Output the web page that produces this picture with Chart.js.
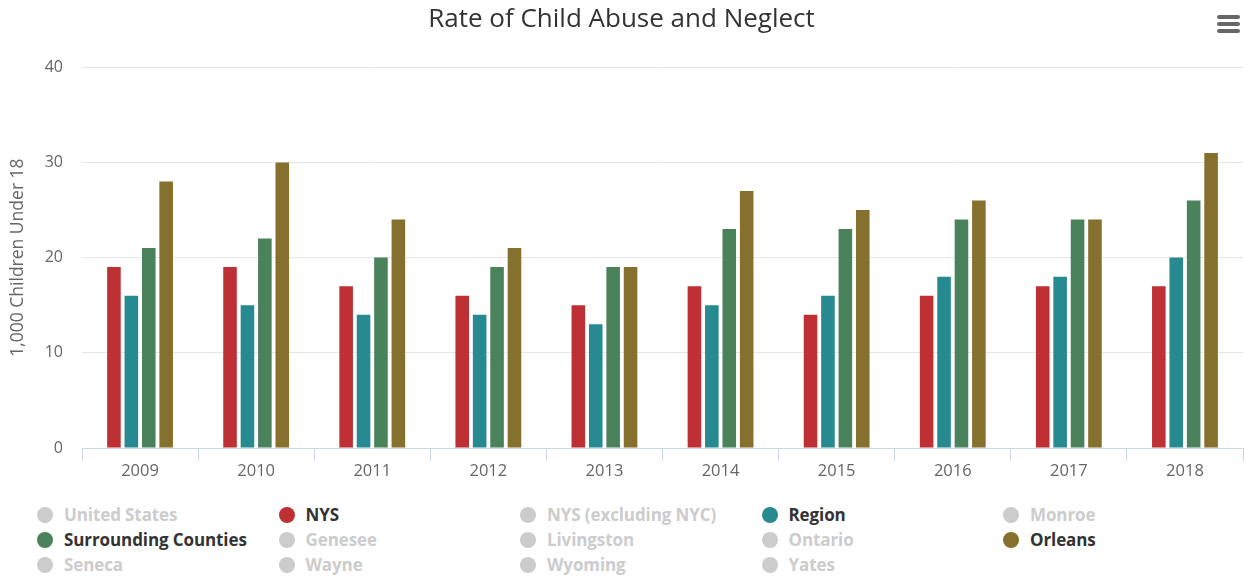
<!DOCTYPE html>
<html>
<head>
<meta charset="utf-8">
<script src="https://cdn.jsdelivr.net/npm/chart.js@4"></script>
<style>
  html, body { margin: 0; padding: 0; background: #fff; }
  #wrap { position: relative; width: 1244px; height: 576px; overflow: hidden; }
  #chartBox { position: absolute; left: 0; top: 0; width: 1244px; height: 482px; }
  #menu { position: absolute; left: 1217px; top: 15px; width: 23px; }
  #menu span { display: block; height: 3.5px; margin-bottom: 3.5px; background: #666; border-radius: 2px; }
  #legend { position: absolute; left: 37px; top: 505px; display: grid;
    grid-template-columns: repeat(5, 241.5px); row-gap: 6px;
    font-family: "Open Sans", sans-serif; font-weight: bold; font-size: 17px; letter-spacing: -0.1px; }
  .item { display: flex; align-items: center; height: 19px; white-space: nowrap; }
  .dot { width: 16px; height: 16px; border-radius: 50%; margin-right: 11px; flex: none; }
</style>
</head>
<body>
<div id="wrap">
  <div id="chartBox"><canvas id="abuseChart"></canvas></div>
  <div id="menu"><span></span><span></span><span></span></div>
  <div id="legend"></div>
</div>
<script>
const years = ["2009", "2010", "2011", "2012", "2013", "2014", "2015", "2016", "2017", "2018"];
const yTicks = [0, 10, 20, 30, 40];

const nys = [19, 19, 17, 16, 15, 17, 14, 16, 17, 17];
const region = [16, 15, 14, 14, 13, 15, 16, 18, 18, 20];
const surrounding = [21, 22, 20, 19, 19, 23, 23, 24, 24, 26];
const orleans = [28, 30, 24, 21, 19, 27, 25, 26, 24, 31];

// legend order, hidden series have no values shown in the picture
const seriesNames = [
  "United States", "NYS", "NYS (excluding NYC)", "Region", "Monroe",
  "Surrounding Counties", "Genesee", "Livingston", "Ontario", "Orleans",
  "Seneca", "Wayne", "Wyoming", "Yates"
];
const shownSeries = {
  "NYS": { data: nys, color: "#BE3034" },
  "Region": { data: region, color: "#288A91" },
  "Surrounding Counties": { data: surrounding, color: "#4A825C" },
  "Orleans": { data: orleans, color: "#85712D" }
};

const datasets = seriesNames.map(name => {
  const s = shownSeries[name];
  return {
    label: name,
    data: s ? s.data : [],
    hidden: !s,
    backgroundColor: s ? s.color : "#cccccc",
    borderWidth: 0,
    categoryPercentage: 0.6,
    barPercentage: 0.78
  };
});

const chart = new Chart(document.getElementById("abuseChart"), {
  type: "bar",
  data: { labels: years, datasets },
  options: {
    responsive: true,
    maintainAspectRatio: false,
    animation: false,
    layout: { padding: { left: 0, right: 1, top: 0, bottom: 0 } },
    plugins: {
      legend: { display: false },
      tooltip: { enabled: false },
      title: {
        display: true,
        text: "Rate of Child Abuse and Neglect",
        color: "#333333",
        font: { family: "'Open Sans', sans-serif", size: 26, weight: "normal" },
        padding: { top: 4, bottom: 32 }
      }
    },
    scales: {
      x: {
        grid: {
          display: true,
          drawOnChartArea: false,
          drawTicks: true,
          tickLength: 13,
          color: "#ccd6eb",
          offset: true
        },
        border: { display: true, color: "#ccd6eb" },
        ticks: {
          color: "#666666",
          padding: 0,
          font: { family: "'Open Sans', sans-serif", size: 16.5 }
        },
        afterFit(scale) { scale.height = 34; }
      },
      y: {
        min: 0,
        max: 40,
        afterBuildTicks(scale) { scale.ticks = yTicks.map(v => ({ value: v })); },
        grid: { color: "#e6e6e6", drawTicks: false },
        border: { display: false },
        ticks: {
          color: "#666666",
          padding: 19,
          font: { family: "'Open Sans', sans-serif", size: 16 }
        },
        title: {
          display: true,
          text: "1,000 Children Under 18",
          color: "#666666",
          padding: { top: 8, bottom: 0 },
          font: { family: "'Open Sans', sans-serif", size: 17.5 }
        },
        afterFit(scale) { scale.width = 82; }
      }
    }
  }
});

const legendEl = document.getElementById("legend");
chart.data.datasets.forEach(ds => {
  const item = document.createElement("div");
  item.className = "item";
  const dot = document.createElement("span");
  dot.className = "dot";
  dot.style.background = ds.hidden ? "#cccccc" : ds.backgroundColor;
  const txt = document.createElement("span");
  txt.textContent = ds.label;
  txt.style.color = ds.hidden ? "#cccccc" : "#333333";
  item.appendChild(dot);
  item.appendChild(txt);
  legendEl.appendChild(item);
});
</script>
</body>
</html>
